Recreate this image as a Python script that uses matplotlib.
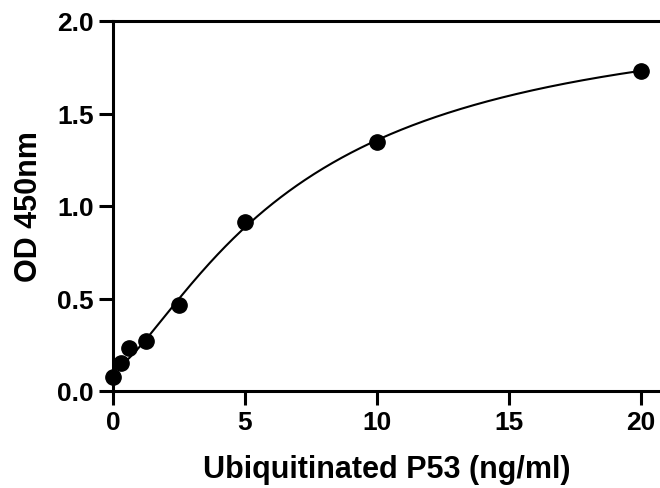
import matplotlib
matplotlib.use('Agg')
import matplotlib.pyplot as plt
import numpy as np

plt.rcParams['font.family'] = ['Liberation Sans', 'DejaVu Sans']
plt.rcParams['font.weight'] = 'bold'

# standard curve data
conc = [0, 0.3125, 0.625, 1.25, 2.5, 5, 10, 20]
od = [0.076, 0.15, 0.23, 0.27, 0.465, 0.912, 1.348, 1.731]

x_ticks = [0, 5, 10, 15, 20]
y_ticks = [0.0, 0.5, 1.0, 1.5, 2.0]


# simple 4PL fit: grid over B, C, least squares for A, D
def fit_4pl(x, y):
    x = np.asarray(x, float)
    y = np.asarray(y, float)
    best = None
    for B in np.linspace(0.8, 3.0, 111):
        for C in np.linspace(1.0, 30.0, 291):
            f = 1.0 / (1.0 + (x / C) ** B)
            M = np.column_stack([f, 1 - f])
            coef, *_ = np.linalg.lstsq(M, y, rcond=None)
            err = np.sum((M @ coef - y) ** 2)
            if best is None or err < best[0]:
                best = (err, coef[0], B, C, coef[1])
    return best[1:]


A, B, C, D = fit_4pl(conc, od)
xs = np.linspace(0, 20, 400)
ys = D + (A - D) / (1 + (xs / C) ** B)

fig = plt.figure(figsize=(6.6, 4.89), dpi=100)
ax = fig.add_axes([113 / 660, 97 / 489, 1 - 113 / 660, 370 / 489])

ax.plot(xs, ys, color='black', lw=1.5, zorder=2)
ax.plot(conc, od, 'o', color='black', ms=11, zorder=3, clip_on=False)

ax.set_xlim(0, 20.72)
ax.set_ylim(0, 2.0)
ax.set_xticks(x_ticks)
ax.set_yticks(y_ticks)
ax.set_yticklabels(['%.1f' % v for v in y_ticks])

ax.spines['right'].set_visible(False)
for s in ['left', 'bottom', 'top']:
    ax.spines[s].set_linewidth(2.2)
ax.tick_params(width=2.2, length=10, labelsize=19, pad=4)

ax.set_xlabel('Ubiquitinated P53 (ng/ml)', fontsize=22, fontweight='bold', labelpad=14)
ax.set_ylabel('OD 450nm', fontsize=22, fontweight='bold', labelpad=9)

plt.savefig('out.png', dpi=100)
